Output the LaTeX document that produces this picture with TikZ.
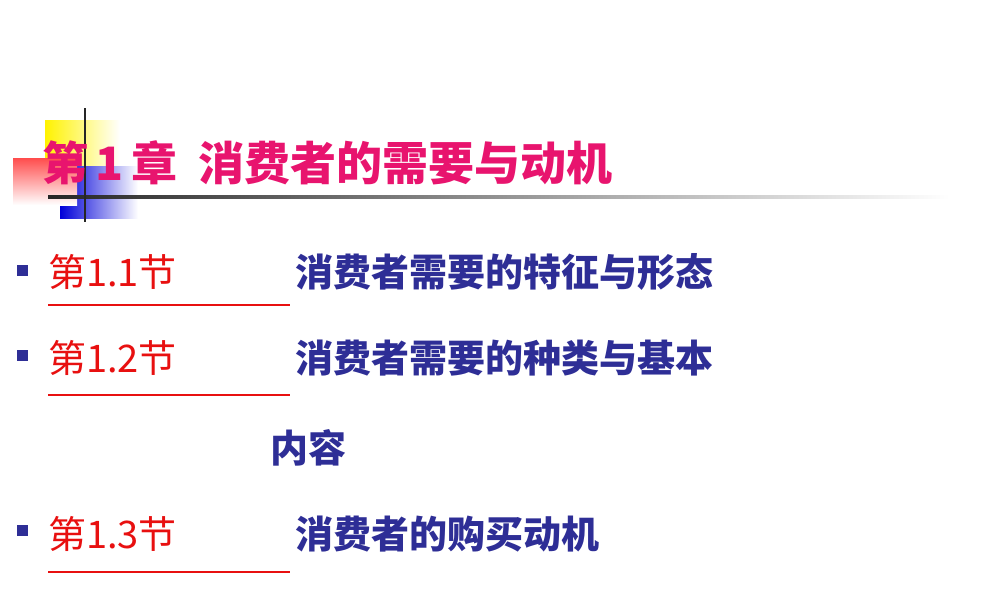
\documentclass[tikz,border=0pt]{standalone}
\usepackage{fontspec}
\newfontfamily\cjk{Noto Sans CJK SC}[BoldFont={Noto Sans CJK SC Bold}]
\newfontfamily\cjkb{Noto Sans CJK SC Black}
\definecolor{mag}{HTML}{E8146E}
\definecolor{navy}{HTML}{2E2E96}
\definecolor{rd}{HTML}{E81010}
\begin{document}
\begin{tikzpicture}[x=1pt,y=-1pt,
  red/.style={anchor=base west,inner sep=0,text=rd,font=\cjk\fontsize{38}{38}\selectfont},
  blu/.style={anchor=base west,inner sep=0,text=navy,font=\cjkb\fontsize{38}{38}\selectfont},
  bul/.style={fill=navy,minimum size=11,inner sep=0},
  ul/.style={rd,line width=1.5}]
\useasboundingbox[fill=white] (0,0) rectangle (1000,600);
\fill[left color=yellow!90!orange,right color=white] (45,120) rectangle (120,166);
\fill[left color=blue!85!black,right color=white] (60,166) rectangle (138,218);
\fill[top color=red!70,bottom color=white] (13,158) rectangle (77,205);
\shade[left color=black!85,right color=white] (48,195.5) rectangle (950,198.5);
\draw[black!85,line width=2] (85,108) -- (85,222);
\node[anchor=base west,inner sep=0,text=mag,font=\cjkb\fontsize{46}{46}\selectfont] (t) at (42,180) {第\,1\,章\ \ 消费者的需要与动机};
\node[bul] (b1) at (22,270) {}; \node[red] (r1) at (48,286) {第1.1节};
\node[blu] (s1) at (295,286) {消费者需要的特征与形态};
\node[bul] (b2) at (22,355) {}; \node[red] (r2) at (48,372) {第1.2节};
\node[blu] (s2) at (295,372) {消费者需要的种类与基本};
\node[blu] (s2b) at (270,462) {内容};
\node[bul] (b3) at (22,530) {}; \node[red] (r3) at (48,548) {第1.3节};
\node[blu] (s3) at (295,548) {消费者的购买动机};
\draw[ul] (48,305) -- (290,305);
\draw[ul] (48,395) -- (290,395);
\draw[ul] (48,572) -- (290,572);
\end{tikzpicture}
\end{document}
